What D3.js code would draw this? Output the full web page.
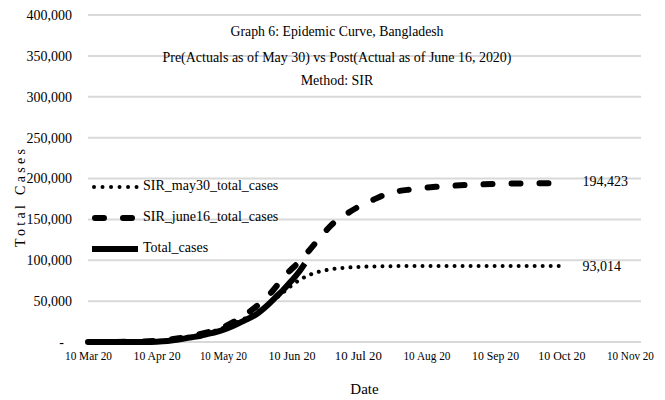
<!DOCTYPE html>
<html>
<head>
<meta charset="utf-8">
<script src="https://cdn.jsdelivr.net/npm/d3@7"></script>
<style>
  html, body { margin: 0; padding: 0; background: #fff; }
  svg { display: block; }
  text { font-family: "Liberation Serif", "Times New Roman", serif; fill: #000; }
</style>
</head>
<body>
<svg id="chart" width="665" height="400"></svg>
<script>
// ---- Data ----
const titleLines = [
  "Graph 6: Epidemic Curve, Bangladesh",
  "Pre(Actuals as of May 30) vs Post(Actual as of June 16, 2020)",
  "Method: SIR"
];
const seriesNames = ["SIR_may30_total_cases", "SIR_june16_total_cases", "Total_cases"];

const may30Dates = ["2020-03-10","2020-04-01","2020-04-10","2020-04-20","2020-04-30","2020-05-10","2020-05-20","2020-05-30","2020-06-05","2020-06-10","2020-06-15","2020-06-20","2020-06-25","2020-07-01","2020-07-10","2020-07-20","2020-08-01","2020-08-20","2020-09-15","2020-10-11"];
const may30Values = [0, 300, 1200, 4000, 9000, 17000, 29000, 45000, 58000, 69000, 78000, 84000, 87500, 90000, 91800, 92600, 92900, 93000, 93010, 93014];

const june16Dates = ["2020-03-10","2020-04-01","2020-04-10","2020-04-20","2020-04-30","2020-05-10","2020-05-15","2020-05-21","2020-05-27","2020-06-01","2020-06-07","2020-06-13","2020-06-18","2020-06-23","2020-06-28","2020-07-04","2020-07-10","2020-07-17","2020-07-23","2020-08-04","2020-08-15","2020-09-01","2020-09-15","2020-10-01","2020-10-11"];
const june16Values = [0, 300, 1500, 4500, 10000, 18000, 25000, 35000, 48000, 61000, 81000, 97000, 112000, 128000, 143000, 155000, 165000, 174000, 181000, 187000, 190000, 192500, 193700, 194200, 194423];

const actualDates = ["2020-03-10","2020-03-20","2020-03-31","2020-04-05","2020-04-10","2020-04-15","2020-04-20","2020-04-25","2020-04-30","2020-05-05","2020-05-10","2020-05-15","2020-05-20","2020-05-25","2020-05-30","2020-06-03","2020-06-06","2020-06-10","2020-06-13","2020-06-16"];
const actualValues = [3, 20, 51, 123, 424, 1231, 2948, 5416, 7667, 10929, 14657, 20065, 26738, 33610, 44608, 55140, 63026, 74865, 84379, 96000];

const yTicks = [0, 50000, 100000, 150000, 200000, 250000, 300000, 350000, 400000];
const xTickDates = ["2020-03-10","2020-04-10","2020-05-10","2020-06-10","2020-07-10","2020-08-10","2020-09-10","2020-10-10","2020-11-10"];
const endLabels = ["194,423", "93,014"];

// ---- Chart ----
(function () {
const parse = d3.timeParse("%Y-%m-%d");
const svg = d3.select("#chart");

const mLeft = 88, mRight = 641, mTop = 15, mBottom = 342;
const x = d3.scaleTime()
  .domain([parse("2020-03-10"), parse("2020-11-15")])
  .range([mLeft, mRight]);
const y = d3.scaleLinear().domain([0, 400000]).range([mBottom, mTop]);

// gridlines
svg.append("g").selectAll("line").data(yTicks).join("line")
  .attr("x1", mLeft).attr("x2", mRight)
  .attr("y1", d => y(d)).attr("y2", d => y(d))
  .attr("stroke", "#d9d9d9").attr("stroke-width", 2);

// y axis labels
const fmt = d3.format(",");
const yAxis = d3.axisLeft(y).tickValues(yTicks).tickSize(0).tickPadding(0)
  .tickFormat(d => d === 0 ? "-" : fmt(d));
const gy = svg.append("g").attr("transform", `translate(${mLeft - 16},0)`).call(yAxis);
gy.select(".domain").remove();
gy.selectAll("text").style("font-family", '"Liberation Serif", serif').style("font-size", "14px")
  .attr("dy", "0.32em")
  .attr("x", d => d === 0 ? -8 : 0);

// x axis labels
const xAxis = d3.axisBottom(x).tickValues(xTickDates.map(parse)).tickSize(0).tickPadding(0)
  .tickFormat(d3.timeFormat("%-d %b %y"));
const gx = svg.append("g").attr("transform", `translate(0,${mBottom + 14})`).call(xAxis);
gx.select(".domain").remove();
gx.selectAll("text").style("font-family", '"Liberation Serif", serif').style("font-size", "12px")
  .attr("dy", "0.32em").attr("y", 0)
  .attr("textLength", 47).attr("lengthAdjust", "spacingAndGlyphs");

// axis titles
svg.append("text").attr("x", (mLeft + mRight) / 2).attr("y", 391)
  .attr("text-anchor", "middle").attr("dominant-baseline", "middle")
  .style("font-size", "15px").text("Date");
svg.append("text").attr("transform", "translate(22,198) rotate(-90)")
  .attr("text-anchor", "middle").attr("dominant-baseline", "middle")
  .attr("textLength", 98).attr("lengthAdjust", "spacing")
  .style("font-size", "14px").text("Total Cases");

// lines
const line = d3.line().x(d => x(d.date)).y(d => y(d.value)).curve(d3.curveMonotoneX);
const mk = (ds, vs) => ds.map((d, i) => ({ date: parse(d), value: vs[i] }));

const styles = [
  { width: 4, dash: "0.01,8", cap: "round" },
  { width: 6, dash: "9,19", cap: "round" },
  { width: 6, dash: null, cap: "butt" }
];
const seriesData = [mk(may30Dates, may30Values), mk(june16Dates, june16Values), mk(actualDates, actualValues)];

seriesData.forEach((data, i) => {
  const p = svg.append("path").datum(data)
    .attr("d", line).attr("fill", "none").attr("stroke", "#000")
    .attr("stroke-width", styles[i].width).attr("stroke-linecap", styles[i].cap);
  if (styles[i].dash) p.attr("stroke-dasharray", styles[i].dash);
});

// end labels
const lastJ = seriesData[1][seriesData[1].length - 1];
const lastM = seriesData[0][seriesData[0].length - 1];
svg.append("text").attr("x", x(lastJ.date) + 19).attr("y", y(lastJ.value))
  .attr("dominant-baseline", "middle").style("font-size", "14px").text(endLabels[0]);
svg.append("text").attr("x", x(lastM.date) + 19).attr("y", y(lastM.value) + 2)
  .attr("dominant-baseline", "middle").style("font-size", "14px").text(endLabels[1]);

// title
const titleY = [33, 59, 82];
const titleLen = [213, 349, null];
titleLines.forEach((t, i) => {
  const tx = svg.append("text").attr("x", 337).attr("y", titleY[i])
    .attr("text-anchor", "middle").attr("dominant-baseline", "middle")
    .style("font-size", "14px").text(t);
  if (titleLen[i]) tx.attr("textLength", titleLen[i]).attr("lengthAdjust", "spacingAndGlyphs");
});

// legend
const legY = [187, 218, 249];
const lg = svg.append("g");
seriesNames.forEach((name, i) => {
  const l = lg.append("line").attr("x1", i === 0 ? 94 : (i === 1 ? 95 : 92)).attr("x2", 138)
    .attr("y1", legY[i]).attr("y2", legY[i])
    .attr("stroke", "#000").attr("stroke-width", styles[i].width)
    .attr("stroke-linecap", styles[i].cap);
  if (i === 0) l.attr("stroke-dasharray", "0.01,8.5");
  if (i === 1) l.attr("stroke-dasharray", "9,19");
  lg.append("text").attr("x", 143).attr("y", legY[i])
    .attr("dominant-baseline", "middle").style("font-size", "14px").text(name);
});
})();
</script>
</body>
</html>
